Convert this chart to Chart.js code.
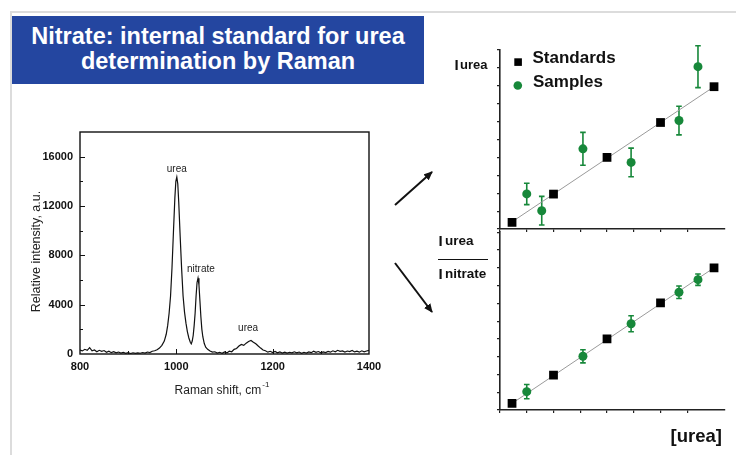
<!DOCTYPE html>
<html>
<head>
<meta charset="utf-8">
<script src="https://cdn.jsdelivr.net/npm/chart.js@4.4.0/dist/chart.umd.min.js"></script>
<style>
html, body { margin: 0; padding: 0; background: #fff; }
body { width: 736px; height: 455px; position: relative; overflow: hidden; font-family: "Liberation Sans", Arial, sans-serif; }
.frame-top { position: absolute; left: 10px; top: 11px; width: 726px; height: 2px; background: #dcdcdc; }
.frame-left { position: absolute; left: 10px; top: 11px; width: 2px; height: 444px; background: #dcdcdc; }
.title { position: absolute; left: 12px; top: 16px; width: 412px; height: 68px; box-sizing: border-box; padding-top: 8px;
  background: #2446a0; color: #fff; font-weight: bold; font-size: 23.5px; line-height: 25px; text-align: center; }
canvas { position: absolute; }
#spec { left: 0; top: 90px; }
#top { left: 420px; top: 30px; }
#bottom { left: 420px; top: 226px; }
svg { position: absolute; left: 0; top: 0; }
</style>
</head>
<body>
<div class="frame-top"></div>
<div class="frame-left"></div>
<div class="title">Nitrate: internal standard for urea<br>determination by Raman</div>
<canvas id="spec" width="400" height="320"></canvas>
<canvas id="top" width="316" height="210"></canvas>
<canvas id="bottom" width="316" height="229"></canvas>
<svg width="736" height="455">
  <defs>
    <marker id="ah" markerWidth="9" markerHeight="8" refX="8" refY="4" orient="auto" markerUnits="userSpaceOnUse">
      <path d="M0,0 L9,4 L0,8 z" fill="#111"/>
    </marker>
  </defs>
  <line x1="395" y1="205" x2="432" y2="172" stroke="#111" stroke-width="2" marker-end="url(#ah)"/>
  <line x1="395" y1="263" x2="432" y2="312" stroke="#111" stroke-width="2" marker-end="url(#ah)"/>
</svg>
<script>
// Raman spectrum (cm-1 / a.u.)
const ramanShift = [
  800,805,810,815,820,825,830,835,840,845,850,855,860,865,870,875,880,885,890,895,900,905,910,915,920,925,930,935,940,945,950,955,
  960,965,970,975,979,982,985,988,991,994,997,999,1001,1003,1005,1008,1011,1014,1017,1020,1023,1026,1029,1031,1033,1035,1037,1039,1041,1043,1045,1047,1049,1051,1053,1055,1058,1061,
  1065,1070,1075,1080,1085,1090,1095,1100,1105,1110,1115,1120,1125,1130,1135,1140,1145,1150,1155,1160,1165,1170,1175,1180,1185,
  1190,1195,1200,1205,1210,1215,1220,1225,1230,1235,1240,1245,1250,1255,1260,1265,1270,1275,1280,1285,1290,1295,1300,1305,1310,1315,1320,1325,1330,1335,1340,1345,1350,1355,1360,1365,1370,1375,1380,1385,1390,1395,1400
];
const intensity = [
  320,250,380,300,520,260,330,180,300,220,280,140,230,110,190,90,160,70,130,60,110,40,100,50,90,60,120,70,160,120,220,260,
  350,480,700,1050,1600,2300,3300,4700,7000,9900,12700,14000,14350,13800,12300,9500,6900,4700,3400,2500,1800,1300,950,820,1050,1500,2300,3300,4700,5800,6150,5600,4300,3000,2000,1400,850,550,
  380,250,150,180,80,140,60,170,90,230,180,380,450,650,780,700,880,1020,1100,960,830,650,480,320,260,
  150,220,120,200,90,170,80,150,70,140,90,180,100,160,60,140,80,170,110,230,130,200,90,170,120,210,150,260,180,300,220,250,160,240,190,280,170,230,150,260,180,240,300
];
const specXTicks = [800, 1000, 1200, 1400];
const specYTicks = [0, 4000, 8000, 12000, 16000];
const peakNames = ['urea', 'nitrate', 'urea'];
const peakShift = [1001, 1051, 1149];
const peakLabelLevel = [15000, 6870, 2050];

// calibration: [urea] vs I(urea) and I(urea)/I(nitrate)
const stdConc = [0.45, 2, 4, 6, 8];
const stdUrea = [0.37, 1.95, 4.0, 5.95, 7.95];
const stdRatio = [0.37, 1.96, 4.0, 6.03, 8.0];
const fitConc = [0.45, 8];
const fitUrea = [0.4, 7.95];
const fitRatio = [0.37, 8.0];
const smpConcTop = [1.0, 1.56, 3.1, 4.9, 6.69, 7.4];
const smpUrea = [1.96, 1.02, 4.48, 3.72, 6.06, 9.07];
const smpUreaErr = [0.6, 0.8, 0.92, 0.8, 0.8, 1.17];
const smpConcBottom = [1.0, 3.1, 4.9, 6.69, 7.4];
const smpRatio = [1.03, 3.02, 4.85, 6.62, 7.33];
const smpRatioErr = [0.4, 0.37, 0.45, 0.35, 0.32];

const FONT = '"Liberation Sans", Arial, sans-serif';
const GREEN = '#17883a';
Chart.defaults.font.family = FONT;

const pts = (xs, ys) => xs.map((x, i) => ({ x: x, y: ys[i] }));

const specDecor = {
  id: 'specDecor',
  afterDraw(chart) {
    const { ctx, chartArea: a, scales: { x, y } } = chart;
    ctx.save();
    ctx.strokeStyle = '#111';
    ctx.lineWidth = 1.4;
    ctx.strokeRect(a.left, a.top, a.right - a.left, a.bottom - a.top);
    ctx.lineWidth = 1;
    for (let v = 2000; v < y.max; v += 2000) {
      const p = Math.round(y.getPixelForValue(v)) + 0.5;
      ctx.beginPath(); ctx.moveTo(a.left, p); ctx.lineTo(a.left + (v % 4000 === 0 ? 5 : 3), p); ctx.stroke();
    }
    for (let v = 900; v < x.max; v += 100) {
      const p = Math.round(x.getPixelForValue(v)) + 0.5;
      ctx.beginPath(); ctx.moveTo(p, a.bottom); ctx.lineTo(p, a.bottom - (v % 200 === 0 ? 5 : 3)); ctx.stroke();
    }
    ctx.fillStyle = '#222';
    ctx.font = '10px ' + FONT;
    ctx.textAlign = 'center';
    ctx.textBaseline = 'middle';
    peakNames.forEach((n, i) => ctx.fillText(n, x.getPixelForValue(peakShift[i]), y.getPixelForValue(peakLabelLevel[i])));
    // x title with superscript
    ctx.font = '12px ' + FONT;
    const main = 'Raman shift, cm';
    const w1 = ctx.measureText(main).width;
    ctx.font = '8px ' + FONT;
    const w2 = ctx.measureText('-1').width;
    const sx = 222 - (w1 + w2 + 1) / 2;
    ctx.textAlign = 'left';
    ctx.textBaseline = 'alphabetic';
    ctx.font = '12px ' + FONT;
    ctx.fillText(main, sx, 303.5);
    ctx.font = '8px ' + FONT;
    ctx.fillText('-1', sx + w1 + 1, 296.5);
    // y title
    ctx.translate(37, 161.5);
    ctx.rotate(-Math.PI / 2);
    ctx.font = '12.5px ' + FONT;
    ctx.textAlign = 'center';
    ctx.textBaseline = 'middle';
    ctx.fillText('Relative intensity, a.u.', 0, 0);
    ctx.restore();
  }
};

new Chart(document.getElementById('spec'), {
  type: 'line',
  data: {
    datasets: [{
      data: pts(ramanShift, intensity),
      borderColor: '#111',
      borderWidth: 1.2,
      pointRadius: 0,
      tension: 0,
      fill: false
    }]
  },
  options: {
    responsive: false,
    animation: false,
    layout: { padding: { left: 0, top: 42, right: 31, bottom: 0 } },
    plugins: { legend: { display: false }, tooltip: { enabled: false } },
    scales: {
      x: {
        type: 'linear', min: 800, max: 1400,
        grid: { display: false, drawTicks: false },
        border: { display: false },
        afterBuildTicks: s => { s.ticks = specXTicks.map(v => ({ value: v })); },
        afterFit: s => { s.height = 56; },
        ticks: { padding: 6, color: '#111', font: { size: 11, weight: 'bold' }, maxRotation: 0, autoSkip: false, callback: v => String(v) }
      },
      y: {
        min: 0, max: 18000,
        grid: { display: false, drawTicks: false },
        border: { display: false },
        afterBuildTicks: s => { s.ticks = specYTicks.map(v => ({ value: v })); },
        afterFit: s => { s.width = 80; },
        ticks: { padding: 7, color: '#111', font: { size: 11, weight: 'bold' }, autoSkip: false, callback: v => String(v) }
      }
    }
  },
  plugins: [specDecor]
});

const errorBars = {
  id: 'errorBars',
  beforeDatasetsDraw(chart) {
    const { ctx, scales: { x, y } } = chart;
    chart.data.datasets.forEach(ds => {
      if (!ds.errors) return;
      ctx.save();
      ctx.strokeStyle = GREEN;
      ctx.lineWidth = 1.6;
      ds.data.forEach((p, i) => {
        const px = x.getPixelForValue(p.x);
        const t = y.getPixelForValue(p.y + ds.errors[i]);
        const b = y.getPixelForValue(p.y - ds.errors[i]);
        ctx.beginPath();
        ctx.moveTo(px, t); ctx.lineTo(px, b);
        ctx.moveTo(px - 2.8, t); ctx.lineTo(px + 2.8, t);
        ctx.moveTo(px - 2.8, b); ctx.lineTo(px + 2.8, b);
        ctx.stroke();
      });
      ctx.restore();
    });
  }
};

function calibChart(id, padTop, xAxisH, stdY, fitY, smpX, smpY, smpErr, decor) {
  return new Chart(document.getElementById(id), {
    type: 'scatter',
    data: {
      datasets: [
        { data: pts(fitConc, fitY), showLine: true, borderColor: '#9a9a9a', borderWidth: 1, pointRadius: 0, order: 3 },
        { data: pts(smpX, smpY), errors: smpErr, pointStyle: 'circle', pointRadius: 4.5, pointBackgroundColor: GREEN, pointBorderWidth: 0, order: 2 },
        { data: pts(stdConc, stdY), pointStyle: 'rect', pointRadius: 6.2, pointBackgroundColor: '#000', pointBorderWidth: 0, order: 1 }
      ]
    },
    options: {
      responsive: false,
      animation: false,
      layout: { padding: { left: 0, top: padTop, right: 11, bottom: 0 } },
      plugins: { legend: { display: false }, tooltip: { enabled: false } },
      scales: {
        x: {
          type: 'linear', min: 0, max: 8.41,
          ticks: { display: false, stepSize: 1 },
          afterBuildTicks: s => { s.ticks = s.ticks.filter(t => Number.isInteger(t.value)); },
          afterFit: s => { s.height = xAxisH; },
          grid: { drawOnChartArea: false, drawTicks: true, tickLength: 3, color: '#222', lineWidth: 1.2 },
          border: { color: '#222', width: 1.6 }
        },
        y: {
          min: 0, max: 10,
          ticks: { display: false, stepSize: 1 },
          afterFit: s => { s.width = 80; },
          grid: { drawOnChartArea: false, drawTicks: true, tickLength: 3, color: '#222', lineWidth: 1.2 },
          border: { color: '#222', width: 1.6 }
        }
      }
    },
    plugins: [errorBars, decor]
  });
}

// tall heavy "I" used in the intensity labels
function bigI(ctx, x, baseline) {
  ctx.fillRect(x, baseline - 10.5, 2.8, 10.5);
}

const topDecor = {
  id: 'topDecor',
  afterDraw(chart) {
    const ctx = chart.ctx;
    ctx.save();
    ctx.fillStyle = '#111';
    ctx.textBaseline = 'alphabetic';
    ctx.font = 'bold 15px ' + FONT;
    ctx.fillText('I', 34.5, 39.5);
    ctx.font = 'bold 13px ' + FONT;
    ctx.fillText('urea', 40, 38.5);
    // legend
    ctx.fillStyle = '#000';
    ctx.fillRect(94.3, 28.3, 7.6, 7.6);
    ctx.fillStyle = GREEN;
    ctx.beginPath(); ctx.arc(97.8, 55.5, 4.3, 0, Math.PI * 2); ctx.fill();
    ctx.fillStyle = '#111';
    ctx.font = 'bold 17px ' + FONT;
    ctx.textBaseline = 'middle';
    ctx.fillText('Standards', 112.5, 28.5);
    ctx.fillText('Samples', 113, 52.5);
    ctx.restore();
  }
};

const bottomDecor = {
  id: 'bottomDecor',
  afterDraw(chart) {
    const ctx = chart.ctx;
    ctx.save();
    ctx.fillStyle = '#111';
    ctx.textBaseline = 'alphabetic';
    ctx.font = 'bold 15px ' + FONT;
    ctx.fillText('I', 18.5, 19.5);
    ctx.fillText('I', 18.5, 52.5);
    ctx.font = 'bold 13.5px ' + FONT;
    ctx.fillText('urea', 25, 18.5);
    ctx.fillText('nitrate', 25, 51.5);
    ctx.strokeStyle = '#111';
    ctx.lineWidth = 1.2;
    ctx.beginPath(); ctx.moveTo(18, 33.5); ctx.lineTo(68, 33.5); ctx.stroke();
    ctx.font = 'bold 18.5px ' + FONT;
    ctx.textAlign = 'right';
    ctx.fillText('[urea]', 302, 216);
    ctx.restore();
  }
};

calibChart('top', 20, 11, stdUrea, fitUrea, smpConcTop, smpUrea, smpUreaErr, topDecor);
calibChart('bottom', 5, 45, stdRatio, fitRatio, smpConcBottom, smpRatio, smpRatioErr, bottomDecor);
</script>
</body>
</html>
